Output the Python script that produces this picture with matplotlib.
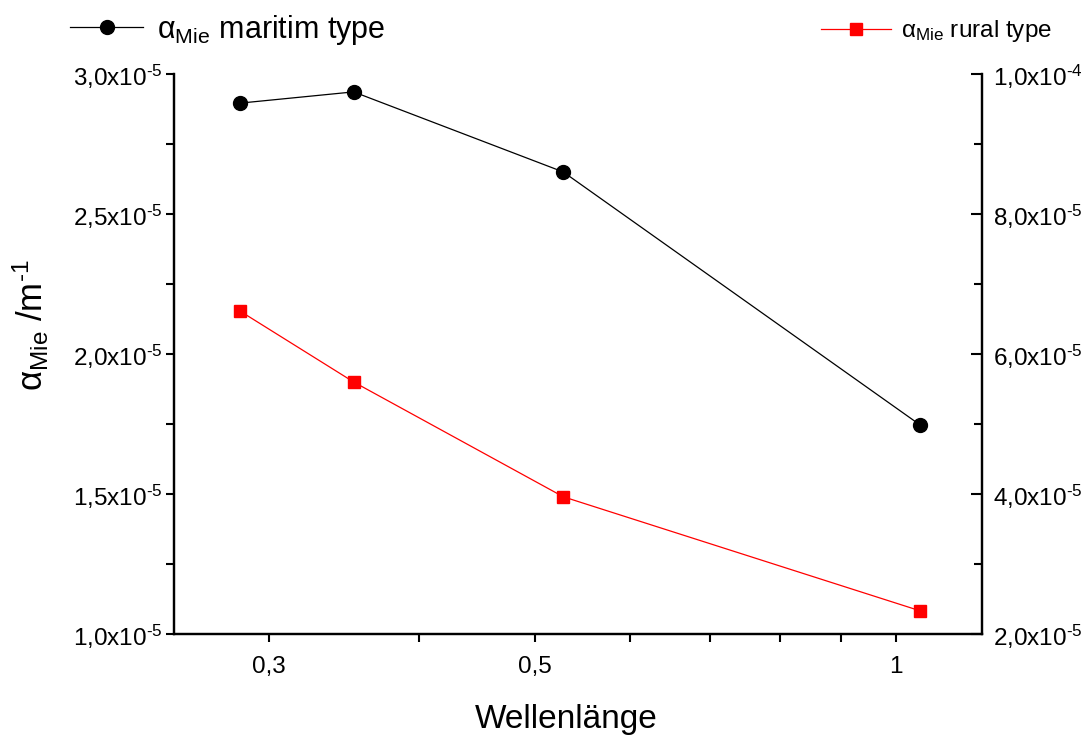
import numpy as np
import matplotlib
matplotlib.use("Agg")
import matplotlib.pyplot as plt
from matplotlib.ticker import FixedLocator, FuncFormatter, MultipleLocator

plt.rcParams['font.family'] = ['Liberation Sans', 'DejaVu Sans']
plt.rcParams['mathtext.fontset'] = 'custom'
plt.rcParams['mathtext.rm'] = 'Liberation Sans'
plt.rcParams['mathtext.it'] = 'Liberation Sans:italic'
plt.rcParams['axes.unicode_minus'] = False

# wavelength in micrometres
wavelength = [0.284, 0.353, 0.528, 1.048]
alpha_maritim = [2.896e-5, 2.936e-5, 2.65e-5, 1.746e-5]   # left axis
alpha_rural = [6.61e-5, 5.60e-5, 3.96e-5, 2.33e-5]        # right axis

x_major = [0.3, 0.5, 1.0]
x_minor = [0.4, 0.6, 0.7, 0.8, 0.9]


def sci_fmt(v, pos):
    if v <= 0:
        return ""
    e = int(np.floor(np.log10(v) + 1e-9))
    m = v / 10**e
    return ("%.1f" % m).replace('.', ',') + "x10$^{\\text{%d}}$" % e


def x_fmt(v, pos):
    if abs(v - round(v)) < 1e-9:
        return "%d" % round(v)
    return ("%.1f" % v).replace('.', ',')


fig = plt.figure(figsize=(10.9, 7.36), dpi=100)
ax = fig.add_axes([0.1596, 0.1386, 0.7414, 0.7609])
ax2 = ax.twinx()

l1, = ax.plot(wavelength, alpha_maritim, color='black', lw=0.9,
              marker='o', ms=10, label=r'α$_{\mathregular{Mie}}$ maritim type')
l2, = ax2.plot(wavelength, alpha_rural, color='red', lw=0.9,
               marker='s', ms=9, label=r'α$_{\mathregular{Mie}}$ rural type')

ax.set_xscale('log')
ax.set_xlim(0.25, 1.18)
ax.xaxis.set_major_locator(FixedLocator(x_major))
ax.xaxis.set_minor_locator(FixedLocator(x_minor))
ax.xaxis.set_major_formatter(FuncFormatter(x_fmt))
ax.xaxis.set_minor_formatter(FuncFormatter(lambda v, p: ""))

ax.set_ylim(1.0e-5, 3.0e-5)
ax.yaxis.set_major_locator(MultipleLocator(0.5e-5))
ax.yaxis.set_minor_locator(MultipleLocator(0.25e-5))
ax.yaxis.set_major_formatter(FuncFormatter(sci_fmt))

ax2.set_ylim(2.0e-5, 1.0e-4)
ax2.yaxis.set_major_locator(MultipleLocator(2e-5))
ax2.yaxis.set_minor_locator(MultipleLocator(1e-5))
ax2.yaxis.set_major_formatter(FuncFormatter(sci_fmt))

for a in (ax, ax2):
    a.spines['top'].set_visible(False)
    for s in a.spines.values():
        s.set_linewidth(1.6)

ax.tick_params(axis='both', which='major', direction='out', length=6, width=1.5,
               labelsize=17.5)
ax.tick_params(axis='both', which='minor', direction='out', length=6, width=1.5)
ax.tick_params(axis='x', pad=10)
ax.tick_params(axis='y', pad=2)
ax2.tick_params(axis='y', which='major', direction='in', length=8, width=1.5,
                labelsize=17.5, pad=8)
ax2.tick_params(axis='y', which='minor', direction='in', length=6, width=1.5)

ax.set_xlabel('Wellenlänge', fontsize=24)
ax.xaxis.set_label_coords(0.485, -0.125)
ax.set_ylabel(r'α$_{\mathregular{Mie}}$ /m$^{\text{-1}}$', fontsize=25)
ax.yaxis.set_label_coords(-0.152, 0.552)

fig.legend(handles=[l1], loc='upper left', bbox_to_anchor=(0.039, 1.02),
           frameon=False, fontsize=22, handlelength=2.4, handletextpad=0.45,
           numpoints=1)
fig.legend(handles=[l2], loc='upper right', bbox_to_anchor=(0.985, 1.005),
           frameon=False, fontsize=17.5, handlelength=2.9, handletextpad=0.4,
           numpoints=1)

fig.savefig('out.png', dpi=100)
